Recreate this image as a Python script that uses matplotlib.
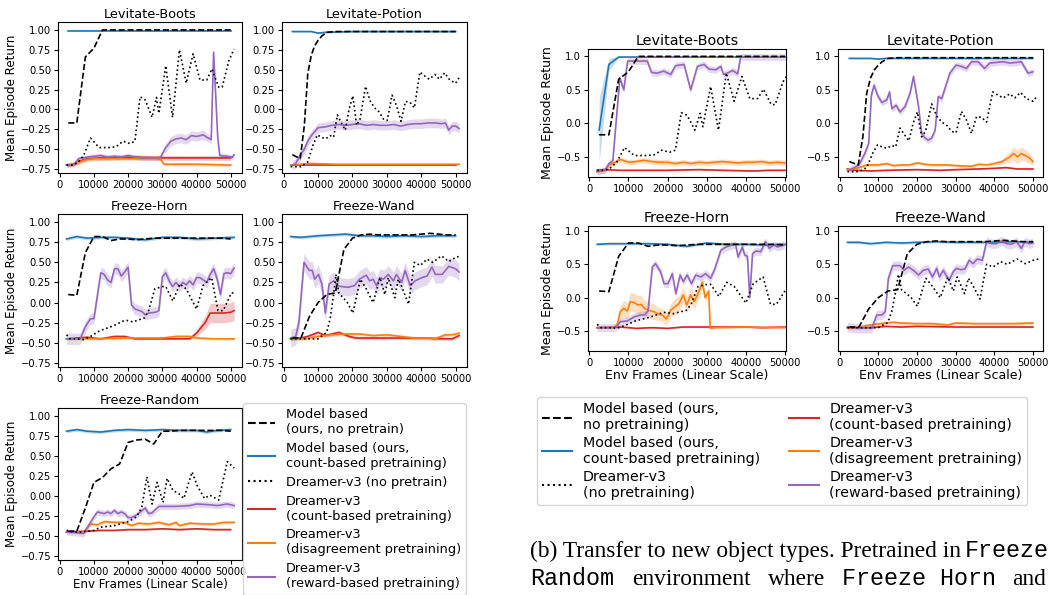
import numpy as np
import matplotlib
matplotlib.use("Agg")
import matplotlib.pyplot as plt
from matplotlib.lines import Line2D

# ---------------- data ----------------
# Model based (no pretraining) -- dashed, shared between (a) and (b)
DASH_X = [2500, 5000, 7500, 10000, 12500, 15000, 17500, 20000, 22500, 25000,
          27500, 30000, 32500, 35000, 37500, 40000, 42500, 45000, 47500, 50000]
LB_DASH_Y = [-0.17, -0.17, 0.66, 0.77, 1.0, 1.0, 1.0, 1.0, 1.0, 1.0,
             1.0, 1.0, 1.0, 1.0, 1.0, 1.0, 1.0, 1.0, 1.0, 1.0]
LP_DASH_X = [2500, 4800, 6000, 7000, 8000, 9000, 10000, 11000, 12500, 15000, 50000]
LP_DASH_Y = [-0.57, -0.62, -0.20, 0.45, 0.68, 0.80, 0.87, 0.92, 0.97, 0.98, 0.98]
FH_DASH_Y = [0.10, 0.09, 0.62, 0.82, 0.82, 0.77, 0.79, 0.79, 0.78, 0.79,
             0.80, 0.80, 0.80, 0.80, 0.80, 0.80, 0.80, 0.80, 0.80, 0.79]
FW_DASH_Y = [-0.44, -0.44, -0.17, 0.0, 0.10, 0.12, 0.66, 0.80, 0.84, 0.85,
             0.84, 0.84, 0.84, 0.84, 0.84, 0.85, 0.86, 0.85, 0.84, 0.84]
FR_DASH_Y = [-0.44, -0.44, -0.15, 0.17, 0.23, 0.34, 0.40, 0.67, 0.70, 0.71,
             0.65, 0.81, 0.81, 0.82, 0.82, 0.82, 0.82, 0.82, 0.82, 0.81]

# Dreamer-v3 (no pretraining) -- dotted, shared between (a) and (b)
LB_DOT_X = [2000, 4000, 5500, 7000, 9000, 11500, 14500, 16500, 18500, 20500, 22000, 23500, 25000, 27000,
            28300, 29000, 31000, 33000, 35000, 37000, 39000, 41000, 43000, 44500, 46500, 47500, 49500, 51000]
LB_DOT_Y = [-0.70, -0.70, -0.66, -0.58, -0.36, -0.48, -0.48, -0.47, -0.40, -0.43, -0.40, 0.16, 0.12, -0.10,
            0.15, -0.05, 0.55, -0.10, 0.75, 0.33, 0.70, 0.37, 0.37, 0.51, 0.28, 0.28, 0.62, 0.76]
LP_DOT_X = [2000, 5000, 7000, 8500, 9800, 10900, 12200, 13500, 14500, 15600, 16900, 17900, 19000, 20100,
            21200, 22200, 23800, 25100, 26400, 27700, 29000, 30100, 31500, 32800, 34100, 35400, 36700,
            38000, 39600, 40700, 42300, 44000, 45300, 46800, 48300, 50000, 51000]
LP_DOT_Y = [-0.72, -0.72, -0.66, -0.45, -0.32, -0.35, -0.37, -0.33, -0.35, -0.07, -0.18, -0.26, 0.0, 0.17,
            -0.20, -0.12, 0.29, 0.11, 0.02, -0.03, -0.12, -0.14, 0.18, 0.05, -0.15, 0.10, 0.09,
            0.02, 0.47, 0.43, 0.38, 0.44, 0.38, 0.46, 0.37, 0.33, 0.40]
FH_DOT_X = [2000, 3000, 5000, 7000, 9000, 11700, 15600, 18500, 19500, 21400, 24800, 26000, 27800,
            30200, 31000, 33100, 35100, 37000, 40000, 41900, 44400, 46300, 47800, 50200, 51000]
FH_DOT_Y = [-0.40, -0.45, -0.45, -0.46, -0.42, -0.35, -0.29, -0.23, -0.22, -0.24, -0.19, -0.10, 0.17,
            0.20, 0.20, 0.02, 0.23, 0.17, -0.08, 0.21, 0.31, -0.10, -0.10, 0.12, 0.12]
FW_DOT_X = [2000, 5000, 8000, 10000, 12500, 13500, 14500, 15200, 16000, 17500, 18500, 20100, 22300,
            24000, 26000, 28000, 29400, 30400, 32300, 33300, 34300, 36300, 38000, 39700, 41700,
            43300, 45900, 48000, 50000, 51500]
FW_DOT_Y = [-0.45, -0.45, -0.45, -0.45, -0.37, -0.20, 0.10, 0.35, 0.12, 0.05, 0.0, -0.13, 0.29,
            0.17, 0.0, 0.31, 0.10, 0.31, 0.06, 0.29, 0.20, -0.02, 0.50, 0.46, 0.54,
            0.50, 0.58, 0.51, 0.56, 0.58]
FR_DOT_X = [2000, 4000, 6000, 8000, 10000, 12000, 16000, 20000, 22500, 24000, 25500, 27000, 28500,
            30200, 31400, 33100, 34800, 36300, 38700, 40200, 42300, 43900, 46500, 49000, 51000]
FR_DOT_Y = [-0.43, -0.45, -0.45, -0.44, -0.43, -0.39, -0.37, -0.32, -0.26, -0.14, 0.24, -0.10, 0.17,
            -0.08, 0.22, 0.07, 0.03, -0.03, 0.30, 0.13, -0.03, 0.01, -0.05, 0.43, 0.35]

# ---- (a) panels ----
aLB_BLU_X = [2500, 50000]
aLB_BLU_Y = [0.99, 0.99]
aLB_RED_X = [2000, 4000, 6000, 8000, 12000, 20000, 30000, 40000, 50000]
aLB_RED_Y = [-0.70, -0.69, -0.65, -0.62, -0.61, -0.60, -0.61, -0.61, -0.61]
aLB_ORA_X = [2000, 4000, 6000, 8000, 10000, 20000, 28000, 29500, 30500, 40000, 50000]
aLB_ORA_Y = [-0.70, -0.69, -0.66, -0.63, -0.62, -0.62, -0.62, -0.63, -0.69, -0.69, -0.70]
aLB_PUR_X = [2000, 4000, 5500, 8000, 10000, 12000, 14000, 16000, 18000, 20000, 22000, 24000, 26000,
             28000, 29500, 31000, 32500, 34000, 35500, 37000, 38500, 40000, 42000, 43000, 44300,
             45000, 46200, 46800, 49000, 50500, 51000]
aLB_PUR_Y = [-0.70, -0.70, -0.62, -0.60, -0.59, -0.58, -0.60, -0.59, -0.60, -0.58, -0.60, -0.61, -0.61,
             -0.61, -0.60, -0.48, -0.40, -0.37, -0.36, -0.38, -0.33, -0.34, -0.32, -0.35, -0.38,
             0.72, -0.35, -0.58, -0.59, -0.60, -0.57]
aLB_PUR_B = [0.02, 0.02, 0.03, 0.03, 0.03, 0.03, 0.03, 0.03, 0.03, 0.03, 0.03, 0.03, 0.03,
             0.03, 0.03, 0.05, 0.06, 0.06, 0.06, 0.06, 0.06, 0.06, 0.06, 0.05, 0.05,
             0.06, 0.05, 0.03, 0.03, 0.03, 0.03]

aLP_BLU_X = [2500, 8000, 10000, 12000, 20000, 30000, 40000, 50000]
aLP_BLU_Y = [0.98, 0.98, 0.96, 0.97, 0.98, 0.98, 0.98, 0.98]
aLP_RED_X = [2000, 10000, 20000, 30000, 40000, 50000]
aLP_RED_Y = [-0.70, -0.70, -0.70, -0.70, -0.70, -0.70]
aLP_ORA_X = [2000, 5000, 8000, 15000, 25000, 35000, 45000, 51000]
aLP_ORA_Y = [-0.70, -0.69, -0.68, -0.69, -0.69, -0.69, -0.69, -0.69]
aLP_PUR_X = [2500, 3500, 5000, 6000, 7000, 8000, 10000, 12000, 14000, 16000, 18000, 20000, 22000, 24000,
             26000, 28000, 30000, 32000, 34000, 36000, 38000, 40000, 42000, 44000, 46000, 47000,
             48000, 49000, 50000, 51000]
aLP_PUR_Y = [-0.70, -0.68, -0.56, -0.50, -0.40, -0.33, -0.23, -0.22, -0.20, -0.19, -0.20, -0.19, -0.18, -0.20,
             -0.19, -0.20, -0.20, -0.19, -0.21, -0.19, -0.18, -0.18, -0.17, -0.17, -0.18, -0.17,
             -0.26, -0.21, -0.21, -0.24]

aFH_BLU_X = [2000, 5000, 8000, 12000, 16000, 20000, 25000, 30000, 35000, 40000, 45000, 51000]
aFH_BLU_Y = [0.79, 0.82, 0.80, 0.81, 0.81, 0.80, 0.78, 0.81, 0.81, 0.79, 0.80, 0.81]
aFH_RED_X = [2000, 8000, 12000, 16000, 19000, 22000, 30000, 38000, 40000, 42500, 44000, 46000, 48000, 50000, 51000]
aFH_RED_Y = [-0.45, -0.43, -0.45, -0.42, -0.42, -0.45, -0.45, -0.45, -0.38, -0.25, -0.13, -0.13, -0.13, -0.12, -0.10]
aFH_RED_B = [0.01, 0.01, 0.01, 0.01, 0.01, 0.01, 0.01, 0.01, 0.04, 0.08, 0.12, 0.12, 0.12, 0.12, 0.12]
aFH_ORA_X = [2000, 10000, 20000, 30000, 34000, 38000, 40000, 45000, 51000]
aFH_ORA_Y = [-0.45, -0.45, -0.44, -0.44, -0.42, -0.42, -0.44, -0.45, -0.45]
aFH_PUR_X = [2000, 4000, 6000, 7500, 9000, 10000, 12000, 13000, 14000, 15000, 16000, 17000, 18000, 19000,
             20000, 21000, 22000, 24000, 25000, 26000, 28000, 29000, 30000, 31000, 32000, 33000, 34000,
             35000, 36000, 37000, 38000, 39000, 40000, 41000, 42000, 43000, 44000, 45000, 46000, 47000,
             48000, 49000, 50000, 51000]
aFH_PUR_Y = [-0.45, -0.45, -0.45, -0.30, -0.20, -0.20, 0.37, 0.35, 0.28, 0.25, 0.42, 0.42, 0.33, 0.38,
             0.44, -0.03, -0.08, -0.11, -0.15, -0.13, -0.12, -0.10, 0.32, 0.37, 0.27, 0.20, 0.25,
             0.20, 0.25, 0.22, 0.27, 0.22, 0.31, 0.31, 0.28, 0.25, 0.35, 0.42, 0.30, 0.10,
             0.36, 0.37, 0.36, 0.43]

aFW_BLU_X = [2000, 5000, 10000, 14000, 18000, 22000, 26000, 30000, 35000, 40000, 45000, 50000]
aFW_BLU_Y = [0.82, 0.81, 0.83, 0.84, 0.85, 0.83, 0.83, 0.82, 0.83, 0.82, 0.83, 0.83]
aFW_RED_X = [2000, 5000, 7000, 10000, 12000, 14000, 16000, 19000, 21000, 30000, 40000, 47000, 49000, 51000]
aFW_RED_Y = [-0.45, -0.44, -0.42, -0.37, -0.41, -0.39, -0.37, -0.42, -0.44, -0.44, -0.44, -0.45, -0.45, -0.41]
aFW_ORA_X = [2000, 6000, 10000, 14000, 18000, 22000, 26000, 30000, 34000, 38000, 42000, 44000, 47000, 49000, 51000]
aFW_ORA_Y = [-0.45, -0.45, -0.42, -0.40, -0.39, -0.39, -0.41, -0.40, -0.42, -0.44, -0.44, -0.45, -0.40, -0.40, -0.38]
aFW_PUR_X = [2000, 3500, 4400, 5900, 7400, 8300, 9000, 10100, 11100, 12100, 13200, 14500, 15700, 16700,
             18600, 20600, 22000, 24000, 25000, 26000, 27000, 28000, 29000, 30400, 31900, 32800, 34300,
             35300, 36800, 38200, 40200, 41700, 43100, 44100, 46100, 48000, 50000, 51000]
aFW_PUR_Y = [-0.44, -0.42, -0.25, 0.50, 0.40, 0.40, 0.29, 0.35, 0.23, -0.13, 0.23, 0.27, 0.21, 0.20,
             0.19, 0.21, 0.29, 0.34, 0.27, 0.29, 0.21, 0.31, 0.29, 0.35, 0.27, 0.35, 0.25,
             0.40, 0.21, 0.27, 0.31, 0.33, 0.44, 0.35, 0.35, 0.45, 0.42, 0.38]

aFR_BLU_X = [2000, 5000, 8000, 12000, 16000, 20000, 25000, 30000, 35000, 40000, 43000, 46000, 50000]
aFR_BLU_Y = [0.81, 0.83, 0.81, 0.80, 0.82, 0.83, 0.82, 0.83, 0.82, 0.82, 0.80, 0.82, 0.83]
aFR_RED_X = [2000, 8000, 12000, 16000, 20000, 25000, 30000, 35000, 40000, 45000, 50000]
aFR_RED_Y = [-0.45, -0.44, -0.43, -0.43, -0.42, -0.42, -0.41, -0.42, -0.41, -0.42, -0.42]
aFR_ORA_X = [2000, 7000, 9000, 11000, 13000, 16000, 19000, 21000, 23000, 26000, 29000, 32000, 34000,
             35000, 38000, 42000, 45000, 48000, 51000]
aFR_ORA_Y = [-0.45, -0.45, -0.35, -0.36, -0.32, -0.33, -0.33, -0.37, -0.34, -0.35, -0.33, -0.36, -0.33,
             -0.37, -0.34, -0.35, -0.35, -0.33, -0.33]
aFR_PUR_X = [2000, 5000, 7000, 8000, 10000, 11000, 13000, 14000, 15000, 16000, 17000, 18000, 19000, 20000,
             21000, 22000, 23000, 25000, 26000, 27000, 29000, 31000, 34000, 38000, 40000, 44000, 46000,
             49000, 51000]
aFR_PUR_Y = [-0.45, -0.46, -0.47, -0.40, -0.26, -0.20, -0.22, -0.20, -0.22, -0.18, -0.22, -0.20, -0.22, -0.27,
             -0.27, -0.25, -0.22, -0.15, -0.22, -0.21, -0.13, -0.13, -0.13, -0.12, -0.10, -0.11, -0.12,
             -0.10, -0.12]

# ---- (b) panels ----
bLB_BLU_X = [2500, 5000, 7500, 10000, 20000, 30000, 40000, 50000]
bLB_BLU_Y = [-0.10, 0.88, 0.99, 0.99, 0.99, 0.99, 0.99, 0.99]
bLB_BLU_B = [0.48, 0.09, 0.01, 0.005, 0.005, 0.005, 0.005, 0.005]
bLB_RED_X = [2000, 4000, 8000, 12000, 20000, 28000, 34000, 42000, 46000, 50000]
bLB_RED_Y = [-0.70, -0.69, -0.70, -0.70, -0.70, -0.69, -0.70, -0.71, -0.70, -0.70]
bLB_ORA_X = [2000, 4000, 5000, 6000, 7500, 8000, 10000, 12000, 14000, 16000, 18000, 20000, 22000, 24000,
             26000, 28000, 30000, 32000, 34000, 36000, 38000, 40000, 42000, 44000, 46000, 48000, 50000]
bLB_ORA_Y = [-0.72, -0.70, -0.62, -0.60, -0.55, -0.54, -0.58, -0.57, -0.55, -0.57, -0.58, -0.58, -0.60, -0.58,
             -0.60, -0.58, -0.59, -0.58, -0.57, -0.58, -0.59, -0.58, -0.58, -0.57, -0.59, -0.58, -0.59]
bLB_PUR_X = [2000, 4000, 5000, 6000, 7800, 8800, 9800, 11400, 14800, 15900, 17400, 19000, 20800, 22000,
             24200, 25900, 27600, 29300, 30600, 32300, 33600, 34300, 35300, 36600, 37900, 38700, 40000, 50000]
bLB_PUR_Y = [-0.72, -0.70, -0.60, -0.56, 0.68, 0.50, 0.93, 0.93, 0.93, 0.76, 0.75, 0.78, 0.73, 0.86,
             0.88, 0.50, 0.85, 0.88, 0.81, 0.80, 0.85, 0.73, 0.75, 0.79, 0.74, 1.0, 0.99, 0.99]

bLP_BLU_X = [2500, 8000, 10000, 12000, 20000, 30000, 40000, 50000]
bLP_BLU_Y = [0.97, 0.97, 0.96, 0.97, 0.97, 0.97, 0.97, 0.97]
bLP_RED_X = [2000, 4000, 8000, 12000, 20000, 26000, 30000, 36000, 40000, 43000, 46000, 50000]
bLP_RED_Y = [-0.68, -0.70, -0.71, -0.70, -0.69, -0.70, -0.69, -0.68, -0.67, -0.66, -0.68, -0.68]
bLP_ORA_X = [2000, 5000, 7000, 10000, 12000, 14000, 16000, 18000, 20000, 22000, 24000, 28000, 30000,
             34000, 36000, 38000, 40000, 42000, 44000, 45000, 46000, 47000, 49000, 50000]
bLP_ORA_Y = [-0.70, -0.66, -0.62, -0.62, -0.60, -0.63, -0.62, -0.62, -0.59, -0.61, -0.62, -0.62, -0.63,
             -0.64, -0.61, -0.62, -0.60, -0.57, -0.50, -0.45, -0.50, -0.45, -0.51, -0.57]
bLP_ORA_B = [0.02, 0.02, 0.02, 0.02, 0.02, 0.02, 0.02, 0.02, 0.02, 0.02, 0.02, 0.02, 0.02,
             0.02, 0.02, 0.02, 0.02, 0.04, 0.08, 0.10, 0.10, 0.10, 0.08, 0.06]
bLP_PUR_X = [2500, 5000, 6500, 7500, 8200, 8900, 9800, 10900, 12200, 12900, 13500, 14600, 15600, 16900,
             18200, 19100, 20400, 21200, 22100, 22900, 23800, 24700, 25500, 26400, 27500, 28500, 30100,
             31500, 32800, 34100, 35800, 37500, 38800, 40500, 42300, 44000, 45700, 47000, 48700, 50000]
bLP_PUR_Y = [-0.70, -0.62, -0.45, -0.30, 0.42, 0.57, 0.42, 0.31, 0.35, 0.47, 0.22, 0.27, 0.17, 0.25,
             0.45, 0.70, 0.25, -0.15, -0.22, -0.25, -0.22, -0.10, 0.40, 0.37, 0.57, 0.75, 0.87,
             0.85, 0.82, 0.92, 0.92, 0.82, 0.90, 0.91, 0.92, 0.90, 0.91, 0.92, 0.75, 0.77]

bFH_BLU_X = [2000, 5000, 10000, 15000, 20000, 25000, 30000, 35000, 40000, 45000, 50000]
bFH_BLU_Y = [0.80, 0.81, 0.81, 0.81, 0.80, 0.77, 0.82, 0.80, 0.80, 0.79, 0.80]
bFH_RED_X = [2000, 8000, 12000, 16000, 20000, 24000, 30000, 40000, 44000, 50000]
bFH_RED_Y = [-0.45, -0.44, -0.46, -0.45, -0.46, -0.44, -0.44, -0.44, -0.45, -0.44]
bFH_ORA_X = [2000, 6000, 7100, 7900, 8800, 9700, 10500, 11400, 12400, 13200, 14100, 15200, 16500, 17400,
             18600, 19700, 20800, 21800, 22900, 24000, 24900, 25900, 26800, 28000, 28900, 29600, 30500,
             30900, 32000, 40000, 50000]
bFH_ORA_Y = [-0.45, -0.45, -0.41, -0.21, -0.16, -0.20, -0.06, -0.07, -0.11, -0.10, -0.16, -0.19, -0.21, -0.24,
             -0.26, -0.32, -0.19, -0.14, -0.09, 0.04, -0.11, 0.04, -0.06, 0.09, 0.23, 0.00, 0.10,
             -0.46, -0.45, -0.44, -0.45]
bFH_ORA_B = [0.01, 0.01, 0.05, 0.10, 0.12, 0.12, 0.14, 0.14, 0.14, 0.14, 0.12, 0.12, 0.12, 0.10,
             0.10, 0.10, 0.10, 0.12, 0.12, 0.12, 0.12, 0.12, 0.12, 0.10, 0.08, 0.06, 0.05,
             0.02, 0.02, 0.01, 0.01]
bFH_PUR_X = [2000, 6000, 7100, 7900, 9700, 11400, 13100, 14100, 15000, 16100, 16900, 18200, 19100, 20100,
             21200, 22100, 23200, 24000, 25000, 26100, 27200, 28500, 29700, 31000, 32100, 33600, 34900,
             36600, 37400, 38000, 39100, 39700, 40400, 41000, 41700, 42600, 43800, 45000, 46000, 47100,
             48100, 49800]
bFH_PUR_Y = [-0.45, -0.45, -0.43, -0.36, -0.35, -0.29, -0.26, -0.26, -0.20, 0.46, 0.51, 0.39, 0.21, 0.21,
             0.36, 0.06, 0.34, 0.24, 0.34, 0.21, 0.34, 0.31, 0.36, 0.29, 0.44, 0.71, 0.76,
             0.79, 0.80, 0.61, 0.76, 0.64, 0.62, 0.00, 0.66, 0.70, 0.69, 0.84, 0.74, 0.79,
             0.76, 0.79]

bFW_BLU_X = [2000, 5000, 8000, 12000, 16000, 20000, 25000, 30000, 35000, 40000, 45000, 50000]
bFW_BLU_Y = [0.83, 0.83, 0.81, 0.83, 0.82, 0.83, 0.84, 0.83, 0.83, 0.83, 0.84, 0.83]
bFW_RED_X = [2000, 8000, 12000, 16000, 20000, 30000, 40000, 50000]
bFW_RED_Y = [-0.45, -0.45, -0.43, -0.44, -0.43, -0.44, -0.44, -0.44]
bFW_ORA_X = [2000, 5000, 7000, 9000, 12000, 14000, 16000, 20000, 24000, 28000, 30000, 35000, 40000, 45000, 50000]
bFW_ORA_Y = [-0.45, -0.45, -0.42, -0.40, -0.38, -0.37, -0.38, -0.39, -0.39, -0.41, -0.38, -0.39, -0.39, -0.39, -0.38]
bFW_PUR_X = [2000, 5000, 8300, 9600, 10900, 11800, 12600, 13700, 15600, 16700, 17800, 19100, 20400, 21600,
             22900, 24000, 25100, 25800, 26800, 27500, 28300, 29400, 30200, 31300, 32400, 33500, 34500,
             35600, 36900, 38000, 39300, 40500, 41800, 43100, 44400, 45700, 47000, 47900, 49000, 50000]
bFW_PUR_Y = [-0.44, -0.46, -0.46, -0.26, -0.26, -0.21, 0.29, 0.48, 0.48, 0.41, 0.46, 0.41, 0.34, 0.41,
             0.43, 0.31, 0.44, 0.31, 0.41, 0.34, 0.26, 0.39, 0.44, 0.42, 0.43, 0.56, 0.51,
             0.58, 0.56, 0.84, 0.81, 0.81, 0.85, 0.81, 0.80, 0.84, 0.74, 0.84, 0.81, 0.82]

TITLES_A = ["Levitate-Boots", "Levitate-Potion", "Freeze-Horn", "Freeze-Wand", "Freeze-Random"]
TITLES_B = ["Levitate-Boots", "Levitate-Potion", "Freeze-Horn", "Freeze-Wand"]
LABELS_A = ["Model based\n(ours, no pretrain)", "Model based (ours,\ncount-based pretraining)",
            "Dreamer-v3 (no pretrain)", "Dreamer-v3\n(count-based pretraining)",
            "Dreamer-v3\n(disagreement pretraining)", "Dreamer-v3\n(reward-based pretraining)"]
LABELS_B = ["Model based (ours,\nno pretraining)", "Model based (ours,\ncount-based pretraining)",
            "Dreamer-v3\n(no pretraining)", "Dreamer-v3\n(count-based pretraining)",
            "Dreamer-v3\n(disagreement pretraining)", "Dreamer-v3\n(reward-based pretraining)"]

# ---------------- styling ----------------
C_BLUE, C_RED, C_ORA, C_PUR = "#1f77b4", "#d62728", "#ff7f0e", "#9467bd"
LW = 1.2
W, H = 1052, 595

fig = plt.figure(figsize=(W / 100, H / 100), dpi=100)


def ax_px(x0, y0, x1, y1):
    return fig.add_axes([x0 / W, 1 - y1 / H, (x1 - x0) / W, (y1 - y0) / H])


def band_line(ax, x, y, band, color, lw=LW):
    x = np.asarray(x, float)
    y = np.asarray(y, float)
    b = np.broadcast_to(np.asarray(band, float), y.shape)
    ax.fill_between(x, y - b, y + b, color=color, alpha=0.25, lw=0)
    ax.plot(x, y, color=color, lw=lw)


def panel(ax, blu, red, ora, pur, dot, dash, title, tsize):
    band_line(ax, *blu, C_BLUE)
    band_line(ax, *red, C_RED)
    band_line(ax, *ora, C_ORA)
    band_line(ax, *pur, C_PUR)
    ax.plot(dot[0], dot[1], color="black", ls=":", lw=LW)
    ax.plot(dash[0], dash[1], color="black", ls="--", lw=LW)
    ax.set_title(title, fontsize=tsize, pad=3)
    ax.tick_params(labelsize=7.2, length=3, pad=2)
    ax.set_xticks([0, 10000, 20000, 30000, 40000, 50000])


# (a) layout
A_COLS = [(58, 242), (282, 467)]
A_ROWS = [(22, 173), (214, 367), (408, 560)]
a_specs = [
    ((aLB_BLU_X, aLB_BLU_Y, 0.005), (aLB_RED_X, aLB_RED_Y, 0.03), (aLB_ORA_X, aLB_ORA_Y, 0.02),
     (aLB_PUR_X, aLB_PUR_Y, aLB_PUR_B), (LB_DOT_X, LB_DOT_Y), (DASH_X, LB_DASH_Y)),
    ((aLP_BLU_X, aLP_BLU_Y, 0.01), (aLP_RED_X, aLP_RED_Y, 0.01), (aLP_ORA_X, aLP_ORA_Y, 0.015),
     (aLP_PUR_X, aLP_PUR_Y, 0.06), (LP_DOT_X, LP_DOT_Y), (LP_DASH_X, LP_DASH_Y)),
    ((aFH_BLU_X, aFH_BLU_Y, 0.02), (aFH_RED_X, aFH_RED_Y, aFH_RED_B), (aFH_ORA_X, aFH_ORA_Y, 0.015),
     (aFH_PUR_X, aFH_PUR_Y, 0.07), (FH_DOT_X, FH_DOT_Y), (DASH_X, FH_DASH_Y)),
    ((aFW_BLU_X, aFW_BLU_Y, 0.02), (aFW_RED_X, aFW_RED_Y, 0.02), (aFW_ORA_X, aFW_ORA_Y, 0.02),
     (aFW_PUR_X, aFW_PUR_Y, 0.11), (FW_DOT_X, FW_DOT_Y), (DASH_X, FW_DASH_Y)),
    ((aFR_BLU_X, aFR_BLU_Y, 0.02), (aFR_RED_X, aFR_RED_Y, 0.01), (aFR_ORA_X, aFR_ORA_Y, 0.02),
     (aFR_PUR_X, aFR_PUR_Y, 0.04), (FR_DOT_X, FR_DOT_Y), (DASH_X, FR_DASH_Y)),
]
for i, spec in enumerate(a_specs):
    r, c = divmod(i, 2)
    ax = ax_px(A_COLS[c][0], A_ROWS[r][0], A_COLS[c][1], A_ROWS[r][1])
    panel(ax, *spec, TITLES_A[i], 9.3)
    ax.set_xlim(-500, 53300)
    ax.set_ylim(-0.80, 1.10)
    ax.set_yticks([-0.75, -0.5, -0.25, 0.0, 0.25, 0.5, 0.75, 1.0])
    if c == 0:
        ax.set_ylabel("Mean Episode Return", fontsize=8.6, labelpad=2)
    if i == 4:
        ax.set_xlabel("Env Frames (Linear Scale)", fontsize=8.6, labelpad=1)

# (b) layout
B_COLS = [(588, 786), (838, 1043)]
B_ROWS = [(49, 177), (226, 351)]
b_specs = [
    ((bLB_BLU_X, bLB_BLU_Y, bLB_BLU_B), (bLB_RED_X, bLB_RED_Y, 0.01), (bLB_ORA_X, bLB_ORA_Y, 0.04),
     (bLB_PUR_X, bLB_PUR_Y, 0.05), (LB_DOT_X, LB_DOT_Y), (DASH_X, LB_DASH_Y)),
    ((bLP_BLU_X, bLP_BLU_Y, 0.01), (bLP_RED_X, bLP_RED_Y, 0.01), (bLP_ORA_X, bLP_ORA_Y, bLP_ORA_B),
     (bLP_PUR_X, bLP_PUR_Y, 0.05), (LP_DOT_X, LP_DOT_Y), (LP_DASH_X, LP_DASH_Y)),
    ((bFH_BLU_X, bFH_BLU_Y, 0.02), (bFH_RED_X, bFH_RED_Y, 0.01), (bFH_ORA_X, bFH_ORA_Y, bFH_ORA_B),
     (bFH_PUR_X, bFH_PUR_Y, 0.06), (FH_DOT_X, FH_DOT_Y), (DASH_X, FH_DASH_Y)),
    ((bFW_BLU_X, bFW_BLU_Y, 0.02), (bFW_RED_X, bFW_RED_Y, 0.01), (bFW_ORA_X, bFW_ORA_Y, 0.025),
     (bFW_PUR_X, bFW_PUR_Y, 0.07), (FW_DOT_X, FW_DOT_Y), (DASH_X, FW_DASH_Y)),
]
B_XLIM = [(-340, 50260), (-430, 52600)]
B_YLIM = [(-0.80, 1.11), (-0.80, 1.075)]
for i, spec in enumerate(b_specs):
    r, c = divmod(i, 2)
    ax = ax_px(B_COLS[c][0], B_ROWS[r][0], B_COLS[c][1], B_ROWS[r][1])
    panel(ax, *spec, TITLES_B[i], 10.4)
    ax.set_xlim(*B_XLIM[c])
    ax.set_ylim(*B_YLIM[r])
    ax.set_yticks([-0.5, 0.0, 0.5, 1.0])
    if c == 0:
        ax.set_ylabel("Mean Episode Return", fontsize=9, labelpad=2)
    if r == 1:
        ax.set_xlabel("Env Frames (Linear Scale)", fontsize=9, labelpad=1)


def handles():
    return [Line2D([], [], color="black", ls="--", lw=1.5),
            Line2D([], [], color=C_BLUE, lw=1.5),
            Line2D([], [], color="black", ls=":", lw=1.5),
            Line2D([], [], color=C_RED, lw=1.5),
            Line2D([], [], color=C_ORA, lw=1.5),
            Line2D([], [], color=C_PUR, lw=1.5)]


fig.legend(handles(), LABELS_A, loc="upper left", bbox_to_anchor=(243 / W, 1 - 403 / H),
           fontsize=9.3, frameon=True, borderaxespad=0, labelspacing=0.45,
           handlelength=2.1, handletextpad=0.8, borderpad=0.4)
fig.legend(handles(), LABELS_B, loc="upper left", bbox_to_anchor=(537 / W, 1 - 397 / H),
           ncol=2, fontsize=10.3, frameon=True, borderaxespad=0, labelspacing=0.25,
           handlelength=2.1, handletextpad=0.75, borderpad=0.35, columnspacing=2.0)

# caption text
SERIF = "Liberation Serif"
MONO = "Liberation Mono"
CAP = 16.8
fig.text(530 / W, 1 - 557 / H, "(b) Transfer to new object types. Pretrained in ",
         family=SERIF, fontsize=CAP, va="baseline")
fig.text(965 / W, 1 - 557 / H, "Freeze", family=MONO, fontsize=CAP, va="baseline")
fig.text(530 / W, 1 - 585 / H, "Random", family=MONO, fontsize=CAP, va="baseline")
fig.text(632 / W, 1 - 585 / H, "environment", family=SERIF, fontsize=CAP, va="baseline")
fig.text(768 / W, 1 - 585 / H, "where", family=SERIF, fontsize=CAP, va="baseline")
fig.text(842 / W, 1 - 585 / H, "Freeze Horn", family=MONO, fontsize=CAP, va="baseline")
fig.text(1012 / W, 1 - 585 / H, "and", family=SERIF, fontsize=CAP, va="baseline")

fig.savefig("out.png", dpi=100)
